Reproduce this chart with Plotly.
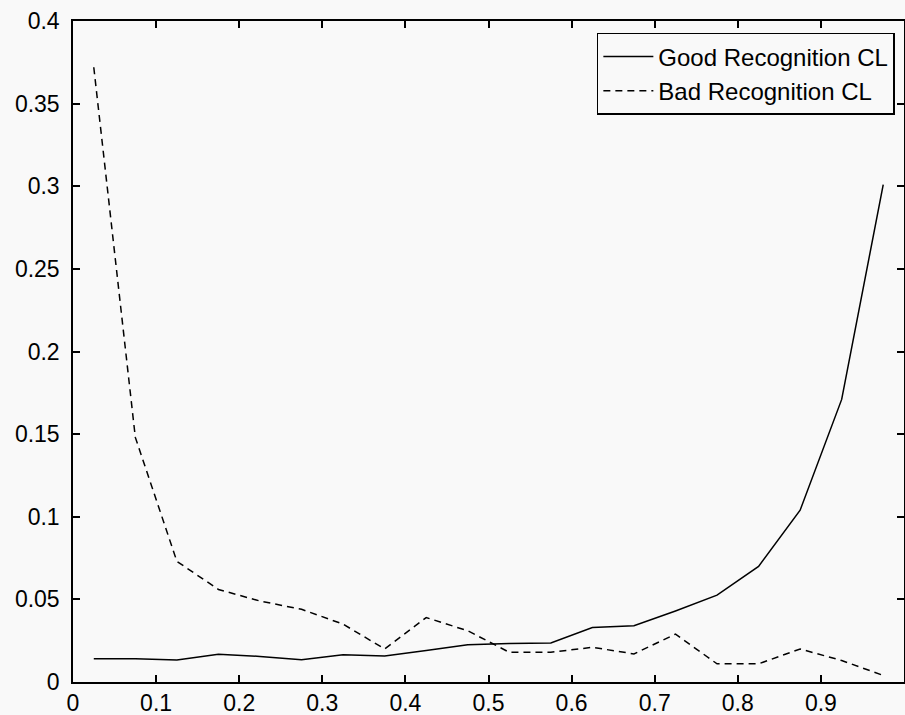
import plotly.graph_objects as go

x_vals = [0.025, 0.075, 0.125, 0.175, 0.225, 0.275, 0.325, 0.375, 0.425, 0.475,
          0.525, 0.575, 0.625, 0.675, 0.725, 0.775, 0.825, 0.875, 0.925, 0.975]
good_cl = [0.014, 0.014, 0.0133, 0.0168, 0.0155, 0.0135, 0.0165, 0.0157, 0.019, 0.0225,
           0.0233, 0.0236, 0.033, 0.034, 0.043, 0.0526, 0.070, 0.104, 0.171, 0.301]
bad_cl = [0.372, 0.148, 0.073, 0.056, 0.049, 0.044, 0.035, 0.020, 0.039, 0.031,
          0.018, 0.018, 0.021, 0.017, 0.029, 0.011, 0.011, 0.020, 0.013, 0.004]
series_names = ["Good Recognition CL", "Bad Recognition CL"]

FONT = "Liberation Sans, Arial, sans-serif"
BG = "#f9f9f9"

fig = go.Figure()
fig.add_trace(go.Scatter(x=x_vals, y=good_cl, mode="lines", name=series_names[0],
                         line=dict(color="black", width=1.5)))
fig.add_trace(go.Scatter(x=x_vals, y=bad_cl, mode="lines", name=series_names[1],
                         line=dict(color="black", width=1.5, dash="7px,5px")))

axis_common = dict(showline=True, linecolor="black", linewidth=1.5, mirror="ticks",
                   ticks="inside", ticklen=7, tickcolor="black", tickwidth=1.5,
                   showgrid=False, zeroline=False, automargin=False,
                   tickfont=dict(family=FONT, size=23, color="black"))

fig.update_layout(
    width=905, height=715,
    margin=dict(l=73, r=1, t=21, b=33, autoexpand=False),
    paper_bgcolor=BG, plot_bgcolor=BG,
    xaxis=dict(range=[0, 1], dtick=0.1, tick0=0, ticklabelstandoff=0, **axis_common),
    yaxis=dict(range=[0, 0.4], dtick=0.05, tick0=0, ticklabelstandoff=7, **axis_common),
    legend=dict(x=0.989, y=0.982, xanchor="right", yanchor="top",
                bgcolor=BG, bordercolor="black", borderwidth=1.5,
                font=dict(family=FONT, size=24, color="black"),
                itemwidth=50, tracegroupgap=0),
    showlegend=True,
)

fig.write_html(
    "out.html",
    config={"displayModeBar": False},
    post_script="document.body.style.margin='0';document.body.style.padding='0';"
                "document.body.style.background='" + BG + "';"
                "document.body.style.overflow='hidden';",
)
